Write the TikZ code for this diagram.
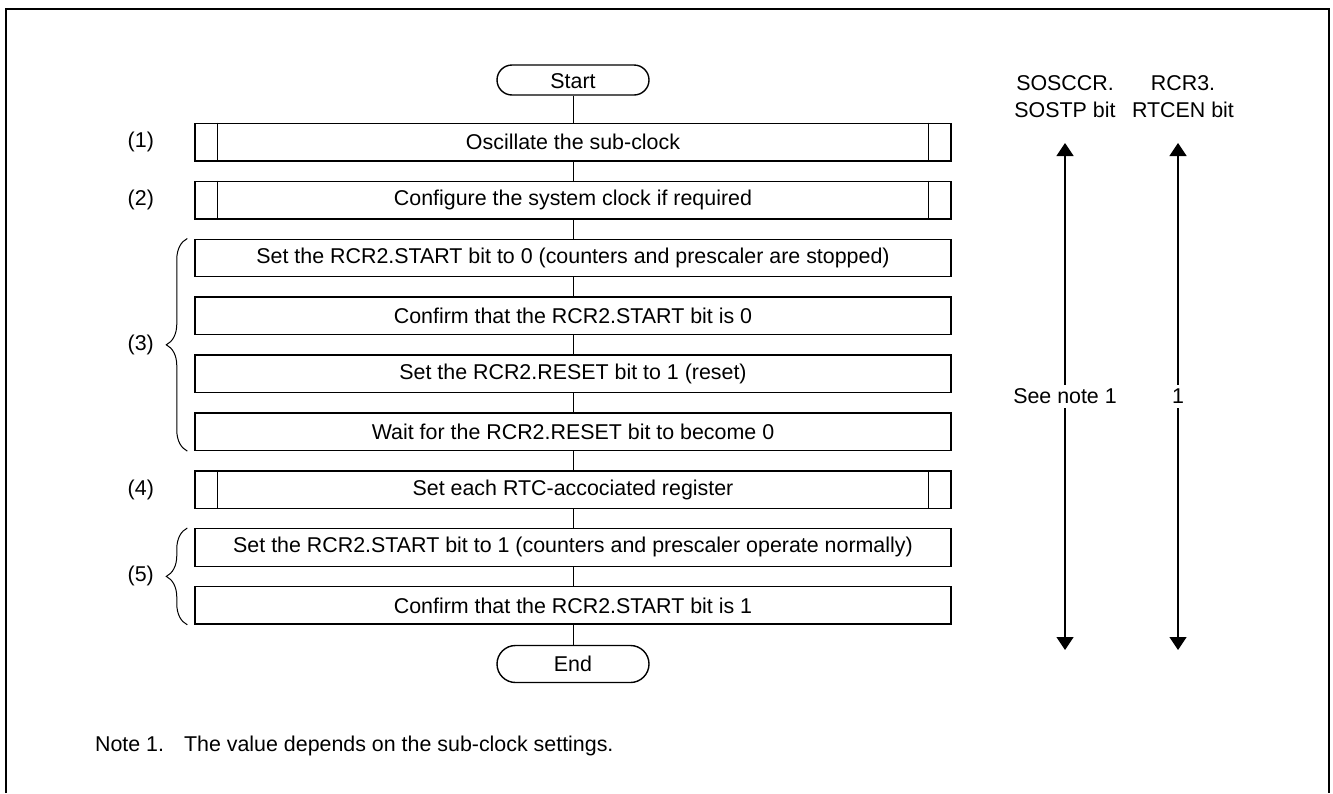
\documentclass[tikz,border=0pt]{standalone}
\usepackage{fontspec}
\setmainfont{Liberation Sans}
\usetikzlibrary{positioning}
\usetikzlibrary{arrows.meta}
\usetikzlibrary{decorations.pathreplacing}
\tikzset{
	proc/.style={draw, rectangle, line width=0.7pt, minimum width=378pt, minimum height=18.75pt, inner sep=2pt},
	term/.style={draw, rectangle, rounded corners=7.5pt, line width=0.7pt, minimum width=76pt, minimum height=15pt, inner sep=1pt},
	tag/.style={inner sep=0pt},
	hdr/.style={align=center, inner sep=0pt},
	% braces grouping the steps (3) and (5)
	curly/.style={decorate, decoration={brace, amplitude=10.5pt}, line width=0.5pt},
	bitarrow/.style={line width=0.7pt, {Triangle[width=8.5pt, length=6.5pt]}-{Triangle[width=8.5pt, length=6.5pt]}},
}

\begin{document}
\begin{tikzpicture}[x=0.5pt, y=-0.5pt, font=\fontsize{10.7}{13.5}\selectfont]
	\useasboundingbox (0,0) rectangle (1333,793);
	\draw[line width=1pt] (6,793) -- (6,9) -- (1329,9) -- (1329,793);
	
	\node (start) [term, text depth=0pt] at (573,80) {\raisebox{-1.5pt}{Start}};
	
	\node (p1) [proc, below=13.5pt of start] {Oscillate the sub-clock};
	\node (p2) [proc, below=9.5pt of p1] {Configure the system clock if required};
	\node (p3a) [proc, below=9.5pt of p2] {Set the RCR2.START bit to 0 (counters and prescaler are stopped)};
	\node (p3b) [proc, below=9.5pt of p3a] {Confirm that the RCR2.START bit is 0};
	\node (p3c) [proc, below=9.5pt of p3b] {Set the RCR2.RESET bit to 1 (reset)};
	\node (p3d) [proc, below=9.5pt of p3c] {Wait for the RCR2.RESET bit to become 0};
	\node (p4) [proc, below=9.5pt of p3d] {Set each RTC-accociated register};
	\node (p5a) [proc, below=9.5pt of p4] {Set the RCR2.START bit to 1 (counters and prescaler operate normally)};
	\node (p5b) [proc, below=9.5pt of p5a] {Confirm that the RCR2.START bit is 1};
	
	\node (end) [term, below=10pt of p5b, minimum height=18.5pt, rounded corners=9.25pt] {End};
	
	\node (l1) [tag, left=20pt of p1] {(1)};
	\node (l2) [tag, left=20pt of p2] {(2)};
	\node (l4) [tag, left=20pt of p4] {(4)};
	
	\foreach \b in {p1, p2, p4} {
		\draw[line width=0.7pt] ([xshift=11.5pt]\b.north west) -- ([xshift=11.5pt]\b.south west);
		\draw[line width=0.7pt] ([xshift=-11.5pt]\b.north east) -- ([xshift=-11.5pt]\b.south east);
	}
	
	\foreach \a/\b in {start/p1, p1/p2, p2/p3a, p3a/p3b, p3b/p3c, p3c/p3d, p3d/p4, p4/p5a, p5a/p5b, p5b/end}
		\draw[line width=0.5pt] (\a) -- (\b);
	
	\draw[curly] ([xshift=-3.5pt]p3d.south west) -- node (l3) [tag, left=16.5pt] {(3)} ([xshift=-3.5pt]p3a.north west);
	\draw[curly] ([xshift=-3.5pt]p5b.south west) -- node (l5) [tag, left=16.5pt] {(5)} ([xshift=-3.5pt]p5a.north west);
	
	\node (hsos) [hdr] at (1065,96.5) {SOSCCR.\\SOSTP bit};
	\node (hrtc) [hdr] at (1183,96.5) {RCR3.\\RTCEN bit};
	
	\coordinate (sosT) at (1065,143);
	\coordinate (sosB) at (1065,650);
	\coordinate (rtcT) at (1178,143);
	\coordinate (rtcB) at (1178,650);
	
	\draw[bitarrow] (sosT) -- node (sosV) [fill=white, inner sep=2pt] {See note 1} (sosB);
	\draw[bitarrow] (rtcT) -- node (rtcV) [fill=white, inner sep=2pt] {1} (rtcB);
	
	\node (note) [anchor=base west] at (88,751) {Note 1.\hspace{10pt}The value depends on the sub-clock settings.};
	
\end{tikzpicture}
\end{document}
